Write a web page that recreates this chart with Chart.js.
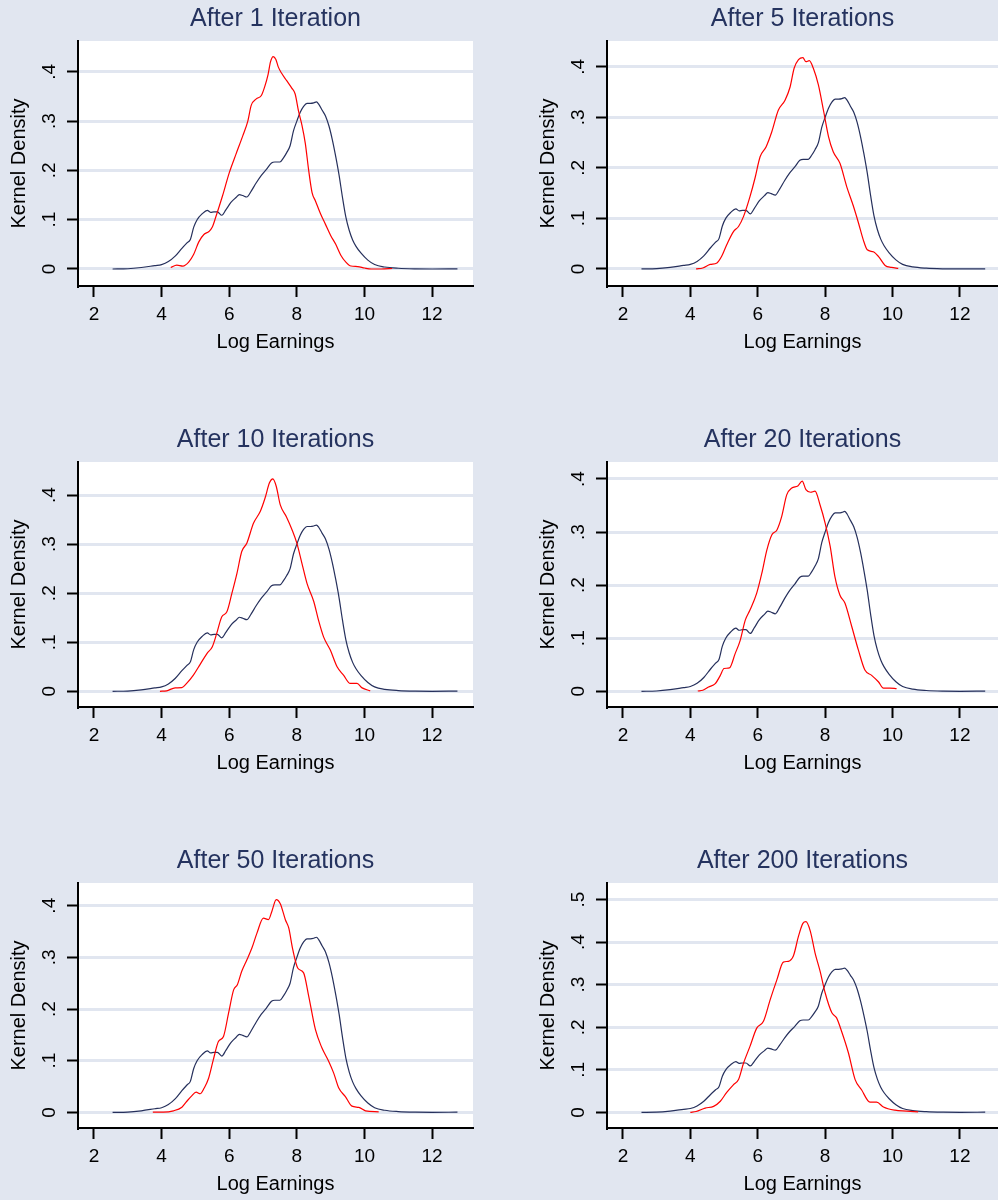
<!DOCTYPE html>
<html>
<head>
<meta charset="utf-8">
<script src="https://cdn.jsdelivr.net/npm/chart.js@4.4.1/dist/chart.umd.min.js"></script>
<style>
  html, body { margin: 0; padding: 0; background: #E1E6F0; }
  #wrap { position: relative; width: 998px; height: 1200px; overflow: hidden; }
  #wrap canvas { position: absolute; }
</style>
</head>
<body>
<div id="wrap"></div>
<script>
// panel titles
const titles = ["After 1 Iteration", "After 5 Iterations", "After 10 Iterations",
  "After 20 Iterations", "After 50 Iterations", "After 200 Iterations"];

// tick labels
const xTicks = [2, 4, 6, 8, 10, 12];
const yTicks4 = [0, 0.1, 0.2, 0.3, 0.4];
const yTicks5 = [0, 0.1, 0.2, 0.3, 0.4, 0.5];

// original (navy) density, same in every panel
const baseX = [2.55, 3.0, 3.4, 3.8, 4.0, 4.2, 4.4, 4.6, 4.75, 4.85, 4.95, 5.05, 5.2, 5.35, 5.45,
  5.55, 5.65, 5.78, 5.9, 6.05, 6.2, 6.3, 6.4, 6.52, 6.65, 6.8, 6.95, 7.1, 7.25, 7.35, 7.5, 7.6,
  7.7, 7.8, 7.9, 8.0, 8.1, 8.2, 8.3, 8.4, 8.5, 8.58, 8.65, 8.75, 8.85, 8.95, 9.05, 9.15, 9.25,
  9.35, 9.45, 9.55, 9.65, 9.75, 9.9, 10.1, 10.3, 10.6, 11.0, 11.5, 12.0, 12.75];
const baseY = [0, 0.0005, 0.003, 0.007, 0.009, 0.015, 0.026, 0.042, 0.053, 0.06, 0.085, 0.1, 0.112,
  0.119, 0.115, 0.116, 0.116, 0.109, 0.12, 0.135, 0.145, 0.151, 0.149, 0.146, 0.158, 0.175, 0.19,
  0.202, 0.215, 0.217, 0.217, 0.225, 0.236, 0.25, 0.28, 0.3, 0.318, 0.33, 0.336, 0.336, 0.337,
  0.339, 0.334, 0.322, 0.31, 0.29, 0.262, 0.228, 0.19, 0.145, 0.105, 0.078, 0.059, 0.046, 0.032,
  0.018, 0.009, 0.004, 0.0015, 0.0003, 0, 0.0003];

// simulated (red) densities
const it1X = [4.27, 4.45, 4.63, 4.8, 4.95, 5.1, 5.25, 5.4, 5.5, 5.6, 5.8, 6.0, 6.2, 6.4, 6.55, 6.65,
  6.8, 6.95, 7.05, 7.15, 7.22, 7.3, 7.38, 7.45, 7.55, 7.7, 7.85, 7.95, 8.05, 8.15, 8.25, 8.35, 8.45,
  8.55, 8.7, 8.85, 9.0, 9.15, 9.3, 9.45, 9.6, 9.8, 10.0, 10.2, 10.5, 10.82];
const it1Y = [0.003, 0.008, 0.006, 0.014, 0.03, 0.055, 0.07, 0.076, 0.085, 0.105, 0.148, 0.195,
  0.233, 0.27, 0.3, 0.332, 0.345, 0.352, 0.37, 0.395, 0.42, 0.431, 0.425, 0.41, 0.397, 0.382, 0.367,
  0.355, 0.32, 0.292, 0.255, 0.2, 0.155, 0.138, 0.112, 0.09, 0.068, 0.05, 0.028, 0.014, 0.006,
  0.005, 0.002, 0, 0, 0.001];

const it5X = [4.17, 4.37, 4.59, 4.79, 4.93, 5.08, 5.28, 5.43, 5.58, 5.77, 5.92, 6.07, 6.25, 6.42,
  6.61, 6.81, 6.96, 7.08, 7.21, 7.34, 7.43, 7.53, 7.65, 7.8, 7.95, 8.1, 8.24, 8.44, 8.64, 8.84, 8.99,
  9.13, 9.25, 9.43, 9.58, 9.78, 9.97, 10.17];
const it5Y = [0, 0.002, 0.009, 0.012, 0.025, 0.048, 0.074, 0.084, 0.104, 0.143, 0.18, 0.222, 0.242,
  0.272, 0.314, 0.334, 0.36, 0.397, 0.414, 0.418, 0.41, 0.412, 0.397, 0.364, 0.314, 0.262, 0.232,
  0.209, 0.163, 0.124, 0.091, 0.058, 0.038, 0.034, 0.025, 0.007, 0.003, 0.001];

const it10X = [3.95, 4.15, 4.4, 4.6, 4.74, 4.94, 5.14, 5.34, 5.5, 5.63, 5.78, 5.93, 6.08, 6.23, 6.37,
  6.52, 6.72, 6.92, 7.06, 7.19, 7.29, 7.39, 7.51, 7.69, 7.86, 8.0, 8.15, 8.3, 8.5, 8.64, 8.79, 8.99,
  9.19, 9.38, 9.58, 9.78, 9.93, 10.17];
const it10Y = [0, 0.001, 0.007, 0.0075, 0.016, 0.033, 0.055, 0.077, 0.091, 0.118, 0.152, 0.162, 0.2,
  0.241, 0.285, 0.302, 0.343, 0.367, 0.394, 0.425, 0.433, 0.418, 0.38, 0.356, 0.329, 0.302, 0.261,
  0.22, 0.183, 0.145, 0.111, 0.084, 0.05, 0.033, 0.016, 0.016, 0.007, 0.001];

const it20X = [4.22, 4.37, 4.54, 4.74, 4.89, 5.0, 5.16, 5.33, 5.48, 5.63, 5.77, 5.97, 6.12, 6.27,
  6.42, 6.57, 6.71, 6.86, 7.01, 7.19, 7.32, 7.43, 7.57, 7.7, 7.85, 8.0, 8.15, 8.29, 8.44, 8.59, 8.79,
  8.99, 9.18, 9.38, 9.58, 9.73, 9.92, 10.12];
const it20Y = [0.0006, 0.002, 0.008, 0.0145, 0.03, 0.043, 0.044, 0.071, 0.096, 0.134, 0.153, 0.185,
  0.222, 0.266, 0.295, 0.304, 0.329, 0.37, 0.383, 0.387, 0.396, 0.38, 0.375, 0.377, 0.351, 0.317,
  0.273, 0.216, 0.181, 0.166, 0.122, 0.077, 0.04, 0.03, 0.018, 0.006, 0.006, 0.005];

const it50X = [3.74, 4.05, 4.35, 4.6, 4.74, 4.89, 5.02, 5.14, 5.26, 5.39, 5.53, 5.68, 5.83, 5.98,
  6.13, 6.24, 6.37, 6.52, 6.67, 6.82, 7.01, 7.16, 7.26, 7.39, 7.51, 7.66, 7.76, 7.88, 8.03, 8.2,
  8.35, 8.55, 8.74, 8.94, 9.09, 9.24, 9.43, 9.63, 9.83, 10.03, 10.42];
const it50Y = [0.0006, 0.0006, 0.003, 0.01, 0.021, 0.032, 0.039, 0.036, 0.047, 0.066, 0.102, 0.137,
  0.147, 0.192, 0.237, 0.247, 0.273, 0.295, 0.318, 0.347, 0.376, 0.373, 0.389, 0.412, 0.404, 0.373,
  0.357, 0.315, 0.279, 0.27, 0.225, 0.16, 0.125, 0.099, 0.076, 0.047, 0.031, 0.012, 0.0097, 0.003,
  0.001];

const it200X = [4.0, 4.17, 4.44, 4.69, 4.89, 5.08, 5.28, 5.43, 5.58, 5.77, 5.97, 6.17, 6.37, 6.57,
  6.76, 6.91, 7.06, 7.21, 7.34, 7.43, 7.56, 7.7, 7.85, 8.0, 8.2, 8.34, 8.49, 8.69, 8.89, 9.08, 9.33,
  9.53, 9.73, 10.07, 10.42, 10.76];
const it200Y = [0, 0.002, 0.01, 0.014, 0.026, 0.047, 0.065, 0.077, 0.116, 0.155, 0.198, 0.214,
  0.265, 0.312, 0.353, 0.355, 0.368, 0.414, 0.444, 0.448, 0.426, 0.375, 0.332, 0.281, 0.234, 0.222,
  0.19, 0.14, 0.077, 0.053, 0.024, 0.024, 0.0125, 0.005, 0.003, 0.001];

const redX = [it1X, it5X, it10X, it20X, it50X, it200X];
const redY = [it1Y, it5Y, it10Y, it20Y, it50Y, it200Y];
const yTickSets = [yTicks4, yTicks4, yTicks4, yTicks4, yTicks4, yTicks5];

// axis ranges per panel (as Stata drew them)
const yLow = [-0.0345, -0.0337, -0.032, -0.0296, -0.0303, -0.0368];
const yHigh = [0.4625, 0.451, 0.4675, 0.432, 0.444, 0.539];

const bg = "#E1E6F0";
const navy = "#26305C";
Chart.defaults.font.family = '"Liberation Sans", Arial, sans-serif';

// white plot region
const plotBg = {
  id: "plotBg",
  beforeDraw(chart) {
    const a = chart.chartArea;
    const ctx = chart.ctx;
    ctx.save();
    ctx.fillStyle = "#fff";
    ctx.fillRect(a.left, a.top, a.right - a.left, a.bottom - a.top);
    ctx.restore();
  }
};

function pts(xs, ys) {
  return xs.map((x, i) => ({ x: x, y: ys[i] }));
}

const wrap = document.getElementById("wrap");
for (let i = 0; i < 6; i++) {
  const col = i % 2, row = Math.floor(i / 2);
  const cv = document.createElement("canvas");
  cv.width = 499;
  cv.height = 358;
  cv.style.left = (col * 499) + "px";
  cv.style.top = (row * 421) + "px";
  wrap.appendChild(cv);

  new Chart(cv, {
    type: "line",
    data: {
      datasets: [
        {
          data: pts(redX[i], redY[i]),
          borderColor: "#FF0000",
          borderWidth: 1.2,
          pointRadius: 0,
          cubicInterpolationMode: "monotone",
        },
        {
          data: pts(baseX, baseY),
          borderColor: navy,
          borderWidth: 1.2,
          pointRadius: 0,
          cubicInterpolationMode: "monotone",
        },
      ],
    },
    options: {
      responsive: false,
      animation: false,
      layout: { padding: { left: col ? 30 : 0, right: col ? 0 : 26, top: 0, bottom: 0 } },
      plugins: {
        legend: { display: false },
        tooltip: { enabled: false },
        title: {
          display: true,
          text: titles[i],
          color: "#25335F",
          fullSize: false,
          font: { size: 25, weight: "normal" },
          padding: { top: 4, bottom: 7 },
        },
      },
      scales: {
        x: {
          type: "linear",
          min: 1.527,
          max: col ? 13.13 : 13.21,
          afterBuildTicks: (s) => { s.ticks = xTicks.map((v) => ({ value: v })); },
          afterFit: (s) => { s.height = 72; },
          grid: { drawOnChartArea: false, tickLength: 11, tickWidth: 2, tickColor: "#000" },
          border: { color: "#000", width: 2 },
          ticks: { color: "#000", font: { size: 19 }, padding: 6, maxRotation: 0, autoSkip: false },
          title: { display: true, text: "Log Earnings", color: "#000", font: { size: 20 }, padding: { top: 0, bottom: 4 } },
        },
        y: {
          type: "linear",
          min: yLow[i],
          max: yHigh[i],
          afterBuildTicks: (s) => { s.ticks = yTickSets[i].map((v) => ({ value: v })); },
          afterFit: (s) => { s.width = 78; },
          grid: { color: bg, lineWidth: 3, tickLength: 11, tickWidth: 2, tickColor: "#000" },
          border: { color: "#000", width: 2 },
          ticks: {
            color: "#000",
            font: { size: 19 },
            minRotation: 90,
            maxRotation: 90,
            crossAlign: "center",
            padding: 9,
            autoSkip: false,
            callback: (v) => (v === 0 ? "0" : String(Math.round(v * 10) / 10).replace(/^0/, "")),
          },
          title: { display: true, text: "Kernel Density", color: "#000", font: { size: 20 }, padding: { top: 7 } },
        },
      },
    },
    plugins: [plotBg],
  });
}
</script>
</body>
</html>
